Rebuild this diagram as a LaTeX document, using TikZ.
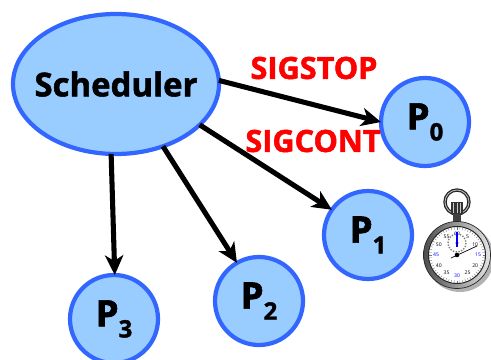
\documentclass[tikz,border=0pt]{standalone}
\usepackage{xcolor}
\usepackage{fontspec}
\setmainfont[BoldFeatures={FakeBold=1.6}]{Open Sans}
\usetikzlibrary{shapes.geometric,arrows.meta,calc}
\definecolor{procfill}{HTML}{99CCFF}
\definecolor{procline}{HTML}{3366FF}
\newlength{\pxu}
\setlength{\pxu}{0.025cm}
\newcommand{\procname}[1]{P\raisebox{-0.3em}{\fontsize{17}{17}\selectfont #1}}
\tikzset{
  sched/.style={ellipse,draw=procline,fill=procfill,line width=3pt,minimum width=206\pxu,minimum height=140\pxu,inner xsep=-12pt,inner ysep=0pt,outer sep=0pt,font=\bfseries\fontsize{23.4}{24}\selectfont},
  proc/.style={circle,draw=procline,fill=procfill,line width=3pt,minimum size=88\pxu,inner sep=0pt,outer sep=0pt,font=\bfseries\fontsize{26}{26}\selectfont},
  sig/.style={text=red,inner sep=0pt,font=\bfseries\fontsize{21.8}{24}\selectfont},
  conn/.style={line width=3.6pt,-{Stealth[length=14pt,width=13pt,inset=4pt]}},
  dialnum/.style={inner sep=0pt,font=\fontsize{3.6}{4}\selectfont}
}
\begin{document}
\begin{tikzpicture}[x=0.025cm,y=-0.025cm]
\useasboundingbox (0,0) rectangle (491,360);

\node [sched] (sched) at (116,84) {Scheduler};
\node [proc] (p0) at (425,122) {\procname{0}};
\node [proc] (p1) at (368,235) {\procname{1}};
\node [proc] (p2) at (259,301) {\procname{2}};
\node [proc] (p3) at (114,319) {\procname{3}};

\draw [conn] (sched.2) -- (p0.180);
\draw [conn] (sched.-26) -- (p1.145);
\draw [conn] (sched.-53) -- (p2.120);
\draw [conn] (sched.-94) -- (p3.89);

\node [sig] (stop) at (314,68) {SIGSTOP};
\node [sig] (cont) at (313,141) {SIGCONT};

% stopwatch
\draw [black!85,line width=2.4pt] (457,202) circle (12);
\draw [black!25,line width=0.6pt] (457,202) circle (12);
\fill [black!75] (453,212) rectangle (461,223);
\fill [black!80] (451,202) rectangle (463,214);
\draw [white!80!black,line width=0.6pt] (453.5,203)--(453.5,213) (457,203)--(457,213) (460.5,203)--(460.5,213);
\fill [black!30] (460,258) circle (34);
\draw [black!85,line width=0.5pt,left color=black!70,right color=white!90!black] (457,255) circle (33.5);
\draw [black!85,line width=0.7pt,fill=white] (457,255) circle (28.5);
\foreach \a in {0,6,...,354}
  \draw [black!55,line width=0.25pt] ($(457,255)+(\a:25.5)$) -- ($(457,255)+(\a:28)$);
\foreach \n/\a/\c in {60/90/blue,5/60/black,10/30/black,15/0/blue,20/-30/black,25/-60/black,30/-90/blue,35/-120/black,40/-150/black,45/180/blue,50/150/black,55/120/black}
  \node [dialnum,text=\c] at ($(457,255)+({21*cos(\a)},{-21*sin(\a)})$) {\n};
\draw [black!50,densely dotted,line width=1pt] (457,243) circle (9);
\draw [blue,line width=0.8pt] (457,232) -- (457,247);
\fill [blue!70!black] (457,243) circle (1.6);
\draw [black,line width=0.5pt] (451,258) -- (477,246);
\fill [black] (457,255) circle (2.3);
\end{tikzpicture}
\end{document}
